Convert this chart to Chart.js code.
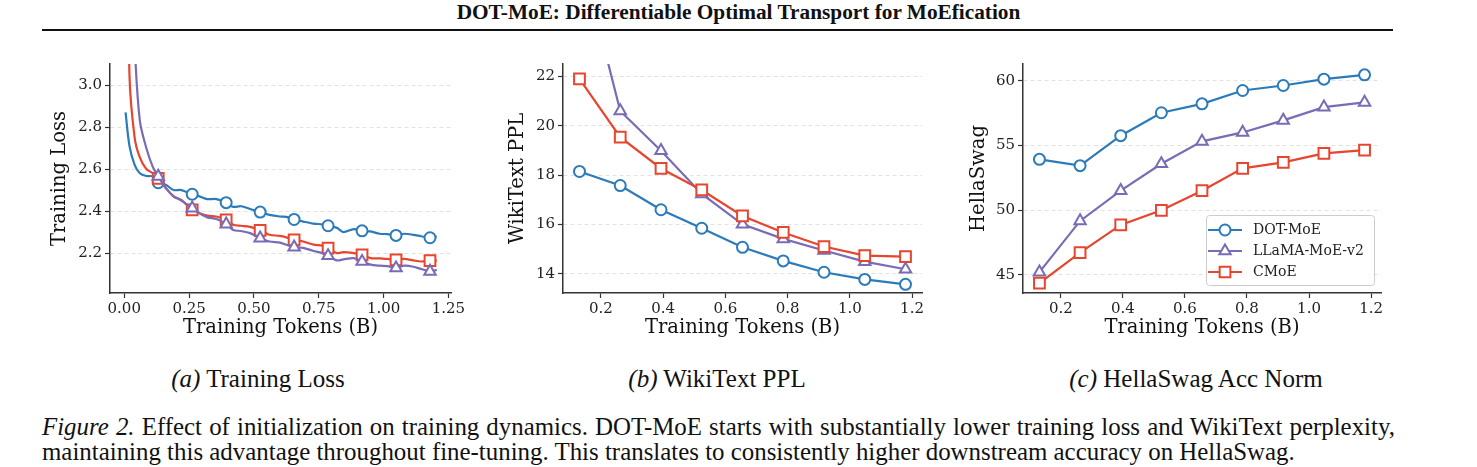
<!DOCTYPE html>
<html>
<head>
<meta charset="utf-8">
<title>DOT-MoE initialization</title>
<script src="https://cdn.jsdelivr.net/npm/chart.js@4.4.1/dist/chart.umd.min.js"></script>
<style>
    body {
        margin: 0;
        width: 1477px;
        height: 467px;
        position: relative;
        overflow: hidden;
        background: #fff;
        color: #111;
        font-family: 'Liberation Serif', 'Times New Roman', serif;
    }
    .title {
        position: absolute; left: 0; top: 0; width: 1477px;
        text-align: center; font-weight: bold; font-size: 21.3px; line-height: 24px;
    }
    .rule { position: absolute; left: 42px; top: 29px; width: 1351px; height: 2px; background: #111; }
    canvas { position: absolute; }
    .sub {
        position: absolute; top: 366px; width: 400px;
        text-align: center; font-size: 25px; line-height: 26px;
    }
    .cap { position: absolute; left: 42px; font-size: 24.9px; line-height: 25px; white-space: nowrap; }
    .cap.first { top: 414px; }
    .cap.second { top: 439px; }
</style>
</head>
<body>
<div class="title">DOT-MoE: Differentiable Optimal Transport for MoEfication</div>
<div class="rule"></div>

<canvas id="lossChart" width="451" height="310" style="left:20px; top:40px;"></canvas>
<canvas id="pplChart" width="469" height="310" style="left:473px; top:40px;"></canvas>
<canvas id="hsChart" width="468" height="310" style="left:933px; top:40px;"></canvas>

<div class="sub" style="left:58px;"><i>(a)</i> Training Loss</div>
<div class="sub" style="left:517px;"><i>(b)</i> WikiText PPL</div>
<div class="sub" style="left:996px;"><i>(c)</i> HellaSwag Acc Norm</div>

<div class="cap first" id="capFirst"><i>Figure 2.</i> Effect of initialization on training dynamics. DOT-MoE starts with substantially lower training loss and WikiText perplexity,</div>
<div class="cap second">maintaining this advantage throughout fine-tuning. This translates to consistently higher downstream accuracy on HellaSwag.</div>

<script>
// ---- data ----
const methods = ['DOT-MoE', 'LLaMA-MoE-v2', 'CMoE'];

// evaluation checkpoints (billions of tokens), also where the loss curves carry markers
const checkpoints = [0.131, 0.262, 0.393, 0.524, 0.655, 0.786, 0.917, 1.048, 1.179];

// smoothed training loss, sampled along the curve
const lossTokens = [0.005, 0.02, 0.04, 0.06, 0.085, 0.11, 0.131, 0.16, 0.19, 0.22,
    0.262, 0.29, 0.32, 0.355, 0.393, 0.42, 0.45, 0.485, 0.524, 0.56,
    0.6, 0.625, 0.655, 0.69, 0.73, 0.765, 0.786, 0.82, 0.845, 0.885,
    0.917, 0.95, 0.985, 1.015, 1.048, 1.08, 1.115, 1.145, 1.179, 1.205];
const lossDot = [2.87, 2.71, 2.62, 2.58, 2.567, 2.565, 2.535, 2.525, 2.50, 2.50,
    2.48, 2.47, 2.457, 2.457, 2.44, 2.42, 2.423, 2.41, 2.395, 2.382,
    2.374, 2.372, 2.36, 2.35, 2.34, 2.337, 2.33, 2.32, 2.30, 2.314,
    2.306, 2.303, 2.292, 2.29, 2.284, 2.292, 2.287, 2.28, 2.273, 2.28];
const lossLlama = [5.5, 4.0, 3.2, 2.83, 2.70, 2.61, 2.565, 2.51, 2.47, 2.45,
    2.414, 2.39, 2.37, 2.362, 2.338, 2.31, 2.305, 2.295, 2.271, 2.255,
    2.25, 2.24, 2.228, 2.225, 2.21, 2.2, 2.187, 2.165, 2.17, 2.176,
    2.16, 2.145, 2.14, 2.138, 2.129, 2.14, 2.135, 2.124, 2.113, 2.12];
const lossCmoe = [4.5, 3.05, 2.75, 2.655, 2.60, 2.58, 2.556, 2.51, 2.47, 2.453,
    2.406, 2.39, 2.378, 2.374, 2.358, 2.335, 2.33, 2.325, 2.308, 2.287,
    2.282, 2.275, 2.263, 2.255, 2.24, 2.235, 2.224, 2.2, 2.205, 2.2,
    2.192, 2.176, 2.175, 2.172, 2.168, 2.172, 2.165, 2.16, 2.164, 2.164];

// WikiText perplexity at each checkpoint
const pplDot = [18.15, 17.58, 16.6, 15.85, 15.08, 14.53, 14.07, 13.78, 13.58];
const pplLlama = [27.1, 20.6, 18.99, 17.24, 16.01, 15.42, 14.95, 14.5, 14.19];
const pplCmoe = [21.9, 19.54, 18.27, 17.4, 16.35, 15.68, 15.11, 14.74, 14.7];

// HellaSwag acc_norm at each checkpoint
const hsDot = [53.93, 53.44, 55.76, 57.53, 58.22, 59.25, 59.64, 60.13, 60.46];
const hsLlama = [45.21, 49.17, 51.51, 53.59, 55.32, 56.01, 56.94, 57.97, 58.33];
const hsCmoe = [44.36, 46.72, 48.86, 49.99, 51.51, 53.23, 53.70, 54.39, 54.65];

// tick labels
const lossXTicks = [0, 0.25, 0.5, 0.75, 1.0, 1.25];
const lossYTicks = [2.2, 2.4, 2.6, 2.8, 3.0];
const stepXTicks = [0.2, 0.4, 0.6, 0.8, 1.0, 1.2];
const pplYTicks = [14, 16, 18, 20, 22];
const hsYTicks = [45, 50, 55, 60];

// ---- styling ----
Chart.defaults.font.family = "'DejaVu Serif', serif";
Chart.defaults.color = '#222';

const COLORS = ['#2b7bba', '#7a6bb6', '#e6452e'];
const MARKERS = [
    { pointStyle: 'circle', radius: 5.5 },
    { pointStyle: 'triangle', radius: 6.6 },
    { pointStyle: 'rect', radius: 7.6 }
];
const SPINE = '#333';

function series(idx, xs, ys, extra) {
    return Object.assign({
        label: methods[idx],
        data: xs.map((x, i) => ({ x: x, y: ys[i] })),
        borderColor: COLORS[idx],
        backgroundColor: '#ffffff',
        pointBackgroundColor: '#ffffff',
        pointBorderColor: COLORS[idx],
        pointBorderWidth: 2,
        pointStyle: MARKERS[idx].pointStyle,
        pointRadius: MARKERS[idx].radius,
        borderWidth: 2.2,
        tension: 0,
        fill: false
    }, extra || {});
}

function axes(o) {
    return {
        x: {
            type: 'linear',
            min: o.xMin,
            max: o.xMax,
            afterBuildTicks: (s) => { s.ticks = o.xTicks.map(v => ({ value: v })); },
            afterFit: (s) => { s.height = 57; },
            ticks: {
                callback: (v) => Number(v).toFixed(o.xDigits),
                font: { size: 15 },
                padding: 2,
                maxRotation: 0,
                autoSkip: false
            },
            grid: { drawOnChartArea: false, drawTicks: true, tickLength: 5, tickColor: SPINE, tickWidth: 1.2 },
            border: { color: SPINE, width: 1.5 },
            title: { display: true, text: 'Training Tokens (B)', color: '#111', font: { size: 19.5 }, padding: { top: 0, bottom: 10 } }
        },
        y: {
            type: 'linear',
            min: o.yMin,
            max: o.yMax,
            afterBuildTicks: (s) => { s.ticks = o.yTicks.map(v => ({ value: v })); },
            afterFit: (s) => { s.width = 90; },
            ticks: {
                callback: (v) => Number(v).toFixed(o.yDigits),
                font: { size: 15 },
                padding: 3,
                autoSkip: false
            },
            grid: {
                color: '#e2e2e2', lineWidth: 1,
                drawTicks: true, tickLength: 5, tickColor: SPINE, tickWidth: 1.2, tickBorderDash: []
            },
            border: { color: SPINE, width: 1.5, dash: [4, 3] },
            title: { display: true, text: o.yTitle, color: '#111', font: { size: 19.5 }, padding: { top: o.yTitlePad, bottom: 0 } }
        }
    };
}

// legend with line + marker samples, drawn inside the lower right of the plot
const insideLegend = {
    id: 'insideLegend',
    afterDraw(chart) {
        const ctx = chart.ctx;
        const area = chart.chartArea;
        const w = 168, h = 70;
        const left = area.right - 7 - w;
        const top = area.bottom - 8 - h;

        ctx.save();
        ctx.fillStyle = 'rgba(255,255,255,0.85)';
        ctx.strokeStyle = '#cccccc';
        ctx.lineWidth = 1;
        ctx.beginPath();
        ctx.roundRect(left + 0.5, top + 0.5, w, h, 3);
        ctx.fill();
        ctx.stroke();

        chart.data.datasets.forEach((ds) => {
            const i = methods.indexOf(ds.label);
            const y = top + 15 + i * 21;
            ctx.strokeStyle = ds.borderColor;
            ctx.lineWidth = 2.2;
            ctx.beginPath();
            ctx.moveTo(left + 2, y);
            ctx.lineTo(left + 36, y);
            ctx.stroke();
            ctx.fillStyle = '#ffffff';
            ctx.lineWidth = 2;
            Chart.helpers.drawPoint(ctx, {
                pointStyle: MARKERS[i].pointStyle,
                radius: MARKERS[i].radius,
                rotation: 0,
                borderWidth: 2
            }, left + 19, y);
            ctx.fillStyle = '#222';
            ctx.font = "14px 'DejaVu Serif', serif";
            ctx.textBaseline = 'middle';
            ctx.textAlign = 'left';
            ctx.fillText(ds.label, left + 47, y);
        });
        ctx.restore();
    }
};

function baseOptions(scales) {
    return {
        responsive: false,
        animation: false,
        devicePixelRatio: 1,
        layout: { padding: { top: 24, right: 20, bottom: 0, left: 0 } },
        plugins: { legend: { display: false }, tooltip: { enabled: false } },
        scales: scales
    };
}

// (a) training loss: markers only at the evaluation checkpoints
const markAt = (idx) => (c) => (c.raw && checkpoints.includes(c.raw.x) ? MARKERS[idx].radius : 0);

new Chart(document.getElementById('lossChart'), {
    type: 'line',
    data: {
        datasets: [
            series(0, lossTokens, lossDot, { pointRadius: markAt(0), tension: 0.3, order: 2 }),
            series(2, lossTokens, lossCmoe, { pointRadius: markAt(2), tension: 0.3, order: 1 }),
            series(1, lossTokens, lossLlama, { pointRadius: markAt(1), tension: 0.3, order: 0 })
        ]
    },
    options: baseOptions(axes({
        xMin: -0.055, xMax: 1.26, xTicks: lossXTicks, xDigits: 2,
        yMin: 2.01, yMax: 3.1, yTicks: lossYTicks, yDigits: 1,
        yTitle: 'Training Loss', yTitlePad: 28
    }))
});

// (b) WikiText perplexity
new Chart(document.getElementById('pplChart'), {
    type: 'line',
    data: {
        datasets: [
            series(0, checkpoints, pplDot, { order: 2 }),
            series(1, checkpoints, pplLlama, { order: 1 }),
            series(2, checkpoints, pplCmoe, { order: 0 })
        ]
    },
    options: baseOptions(axes({
        xMin: 0.078, xMax: 1.232, xTicks: stepXTicks, xDigits: 1,
        yMin: 13.23, yMax: 22.5, yTicks: pplYTicks, yDigits: 0,
        yTitle: 'WikiText PPL', yTitlePad: 33
    }))
});

// (c) HellaSwag
new Chart(document.getElementById('hsChart'), {
    type: 'line',
    data: {
        datasets: [
            series(0, checkpoints, hsDot, { order: 2 }),
            series(1, checkpoints, hsLlama, { order: 1 }),
            series(2, checkpoints, hsCmoe, { order: 0 })
        ]
    },
    options: baseOptions(axes({
        xMin: 0.078, xMax: 1.232, xTicks: stepXTicks, xDigits: 1,
        yMin: 43.6, yMax: 61.3, yTicks: hsYTicks, yDigits: 0,
        yTitle: 'HellaSwag', yTitlePad: 34
    })),
    plugins: [insideLegend]
});

// stretch the first caption line to the full text width, like a justified paragraph
(function justifyFirstLine() {
    const el = document.getElementById('capFirst');
    const target = 1353;
    const gaps = el.textContent.split(' ').length - 1;
    const natural = el.getBoundingClientRect().width;
    el.style.wordSpacing = ((target - natural) / gaps) + 'px';
})();
</script>
</body>
</html>
